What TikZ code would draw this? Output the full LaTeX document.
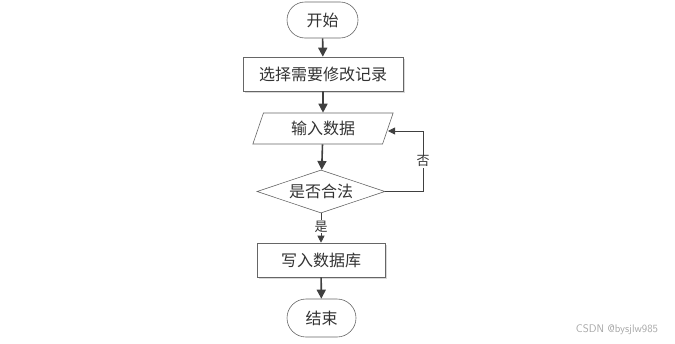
\documentclass[tikz,border=0pt]{standalone}
\usepackage{fontspec}
\newfontfamily\cjk{Noto Sans CJK SC}
\usetikzlibrary{shapes.geometric,shapes.misc,arrows.meta}
\begin{document}
\begin{tikzpicture}[x=1pt,y=-1pt,
  every node/.style={font=\cjk\fontsize{16}{18}\selectfont, text=black!80},
  term/.style={draw=black!60, line width=0.6pt, rounded rectangle, minimum width=71pt, minimum height=36pt, inner sep=0pt},
  proc/.style={draw=black!60, line width=0.6pt, fill=white, minimum width=160pt, minimum height=34pt, inner sep=0pt},
  proc2/.style={draw=black!60, line width=0.6pt, fill=white, minimum width=128pt, minimum height=34pt, inner sep=0pt},
  io/.style={draw=black!60, line width=0.6pt, trapezium, trapezium left angle=69, trapezium right angle=111, minimum width=141pt, minimum height=31pt, inner sep=0pt, trapezium stretches=true},
  dec/.style={draw=black!60, line width=0.6pt, diamond, aspect=3, minimum width=128pt, minimum height=43pt, inner sep=0pt},
  arr/.style={draw=black!75, line width=1.6pt, -{Triangle[length=9pt,width=9pt]}},
  thin/.style={draw=black!75, line width=0.8pt, -{Triangle[length=7pt,width=7pt]}},
  lab/.style={font=\cjk\fontsize{13}{14}\selectfont, fill=white, inner sep=1pt}
]
\useasboundingbox (0,0) rectangle (675,343);
\node[term] (start) at (322.5,20) {开始};
\fill[black!15] (245,59) rectangle (405,93);
\node[proc] (sel) at (323,74) {选择需要修改记录};
\node[io] (inp) at (323,128.5) {输入数据};
\node[dec] (chk) at (321,191.5) {是否合法};
\fill[black!15] (259,245) rectangle (387,279);
\node[proc2] (db) at (321,260) {写入数据库};
\node[term, minimum width=69pt, minimum height=38pt] (end) at (321.5,318) {结束};
\coordinate (c1) at (423,191.5);
\coordinate (c2) at (423,131);
\coordinate (inr) at (388,131);
\draw[arr] (start) -- (sel);
\draw[arr] (sel) -- (inp);
\draw[arr] (inp) -- (chk);
\draw[thin] (chk) -- node[lab, pos=0.45] {是} (db);
\draw[arr] (db) -- (end);
\draw[thin] (chk.east) -- (c1) -- node[lab, pos=0.5] {否} (c2) -- (inr);
\node[font=\sffamily\fontsize{11}{12}\selectfont, text=black!35] (wm) at (617,330) {CSDN @bysjlw985};
\end{tikzpicture}
\end{document}
